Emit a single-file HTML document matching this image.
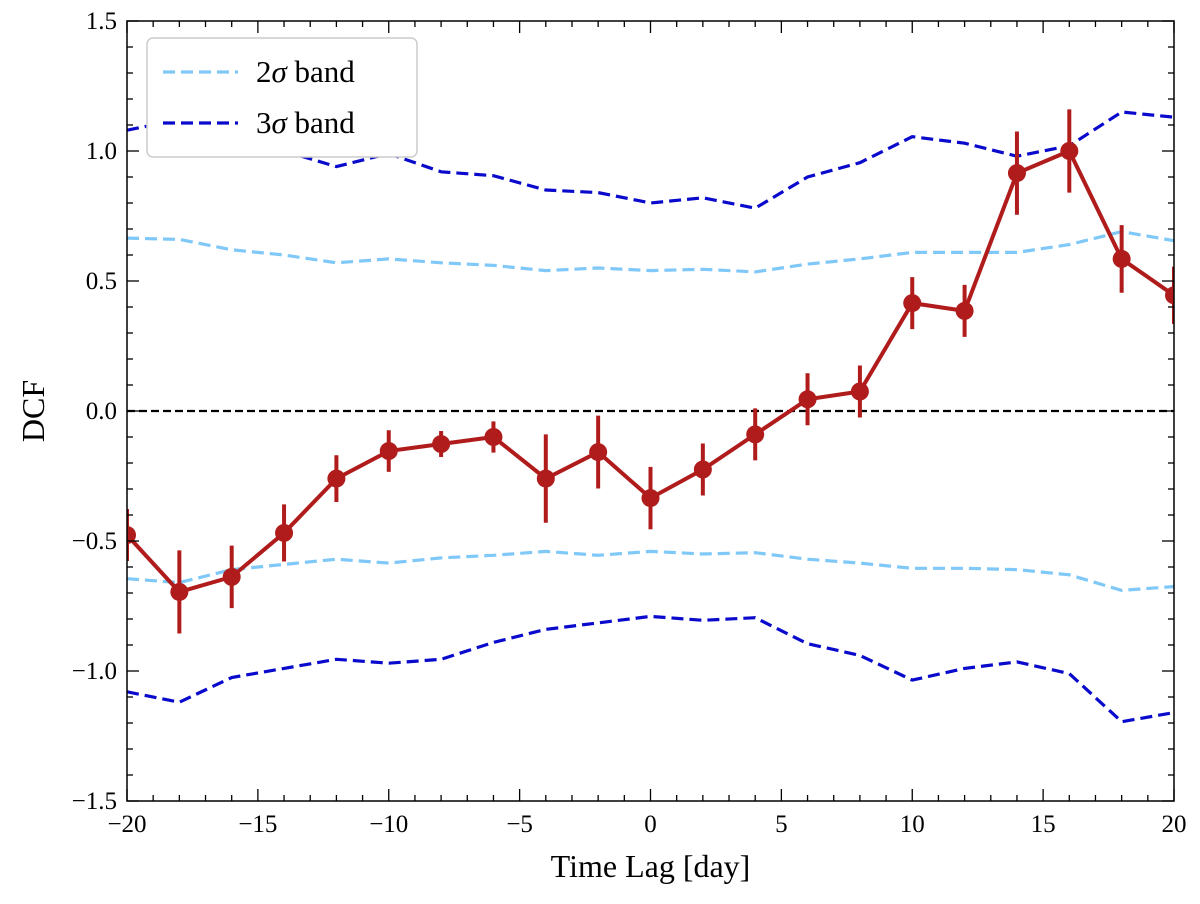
<!DOCTYPE html>
<html><head><meta charset="utf-8"><style>
body{margin:0;background:#fff}
svg text{font-family:"Liberation Serif",serif;fill:#000}
</style></head><body>
<svg id="chart" width="1200" height="899" xmlns="http://www.w3.org/2000/svg"></svg>
<script>
const lags=[-20,-18,-16,-14,-12,-10,-8,-6,-4,-2,0,2,4,6,8,10,12,14,16,18,20];
const dcf=[-0.477,-0.696,-0.638,-0.469,-0.26,-0.154,-0.127,-0.1,-0.26,-0.158,-0.335,-0.225,-0.09,0.045,0.075,0.415,0.385,0.915,1.0,0.585,0.445];
const dcfErr=[0.1,0.16,0.12,0.11,0.09,0.08,0.05,0.06,0.17,0.14,0.12,0.1,0.1,0.1,0.1,0.1,0.1,0.16,0.16,0.13,0.11];
const up3=[1.08,1.12,1.05,1.0,0.94,0.99,0.92,0.905,0.85,0.84,0.80,0.82,0.78,0.90,0.955,1.055,1.03,0.98,1.02,1.15,1.13];
const up2=[0.665,0.66,0.62,0.60,0.57,0.585,0.57,0.56,0.54,0.55,0.54,0.545,0.535,0.565,0.585,0.61,0.61,0.61,0.64,0.69,0.655];
const lo2=[-0.645,-0.66,-0.61,-0.59,-0.57,-0.585,-0.565,-0.555,-0.54,-0.555,-0.54,-0.55,-0.545,-0.57,-0.585,-0.605,-0.605,-0.61,-0.63,-0.69,-0.675];
const lo3=[-1.08,-1.12,-1.025,-0.99,-0.955,-0.97,-0.955,-0.89,-0.84,-0.815,-0.79,-0.805,-0.795,-0.895,-0.94,-1.035,-0.99,-0.965,-1.01,-1.195,-1.16];
const xTicks=[-20,-15,-10,-5,0,5,10,15,20];
const yTicks=[-1.5,-1.0,-0.5,0.0,0.5,1.0,1.5];
const L=127,R=1174,T=21,B=801;
const X=v=>L+(v+20)/40*(R-L);
const Y=v=>B-(v+1.5)/3*(B-T);
const svg=document.getElementById('chart');
const NS='http://www.w3.org/2000/svg';
function mk(tag,attrs,name,parent){const e=document.createElementNS(NS,tag);for(const k in attrs)e.setAttribute(k,attrs[k]);


(parent||svg).appendChild(e);return e;}
const clip=mk('clipPath',{id:'pc'},'plot-clip');
mk('rect',{x:L,y:T,width:R-L,height:B-T},'plot-clip-rect',clip);
const g=mk('g',{'clip-path':'url(#pc)'},'plot-area');
mk('line',{x1:L,x2:R,y1:Y(0),y2:Y(0),stroke:'#000','stroke-width':2.2,'stroke-dasharray':'8,4'},'zero-line',g);
function band(arr,color,name){mk('polyline',{points:lags.map((x,i)=>X(x)+','+Y(arr[i])).join(' '),fill:'none',stroke:color,'stroke-width':3.2,'stroke-dasharray':'12,6'},name,g);}
band(up2,'#7fc8f8','band-2sigma-upper');band(lo2,'#7fc8f8','band-2sigma-lower');
band(up3,'#0a0acc','band-3sigma-upper');band(lo3,'#0a0acc','band-3sigma-lower');
lags.forEach((x,i)=>{mk('line',{x1:X(x),x2:X(x),y1:Y(dcf[i]-dcfErr[i]),y2:Y(dcf[i]+dcfErr[i]),stroke:'#b01c1c','stroke-width':4},'error-bar',g);});
mk('polyline',{points:lags.map((x,i)=>X(x)+','+Y(dcf[i])).join(' '),fill:'none',stroke:'#b01c1c','stroke-width':4},'dcf-line',g);
lags.forEach((x,i)=>{mk('circle',{cx:X(x),cy:Y(dcf[i]),r:9,fill:'#b01c1c'},'dcf-point',g);});
mk('rect',{x:L,y:T,width:R-L,height:B-T,fill:'none',stroke:'#000','stroke-width':1.5},'plot-frame');
for(let v=-20;v<=20;v++){const maj=v%5===0,len=maj?12:6;
mk('line',{x1:X(v),x2:X(v),y1:B,y2:B-len,stroke:'#000','stroke-width':1.3},'x-tick');
mk('line',{x1:X(v),x2:X(v),y1:T,y2:T+len,stroke:'#000','stroke-width':1.3},'x-tick-top');}
for(let k=-15;k<=15;k++){const v=k/10,maj=k%5===0,len=maj?12:6;
mk('line',{x1:L,x2:L+len,y1:Y(v),y2:Y(v),stroke:'#000','stroke-width':1.3},'y-tick');
mk('line',{x1:R,x2:R-len,y1:Y(v),y2:Y(v),stroke:'#000','stroke-width':1.3},'y-tick-right');}
xTicks.forEach(v=>{const t=mk('text',{x:X(v),y:B+31,'font-size':25,'text-anchor':'middle'},'x-tick-label');t.textContent=v<0?'\u2212'+(-v):String(v);});
yTicks.forEach(v=>{const t=mk('text',{x:L-10,y:Y(v)+8,'font-size':25,'text-anchor':'end'},'y-tick-label');t.textContent=(v<0?'\u2212':'')+Math.abs(v).toFixed(1);});
const xt=mk('text',{x:(L+R)/2,y:877,'font-size':32,'text-anchor':'middle'},'x-axis-title');xt.textContent='Time Lag [day]';
const yt=mk('text',{x:0,y:0,'font-size':32,'text-anchor':'middle',transform:'translate(44,411) rotate(-90)'},'y-axis-title');yt.textContent='DCF';
const lg=mk('g',{},'legend');
mk('rect',{x:147,y:38,width:270,height:119,rx:6,fill:'#fff',stroke:'#ccc','stroke-width':1.5},'legend-box',lg);
mk('line',{x1:163,x2:238,y1:72,y2:72,stroke:'#7fc8f8','stroke-width':3.2,'stroke-dasharray':'12,6'},'legend-swatch-2sigma',lg);
mk('line',{x1:163,x2:238,y1:123,y2:123,stroke:'#0a0acc','stroke-width':3.2,'stroke-dasharray':'12,6'},'legend-swatch-3sigma',lg);
const l1=mk('text',{x:256,y:82,'font-size':31},'legend-entry-2sigma',lg);l1.innerHTML='2<tspan font-style="italic">σ</tspan> band';
const l2=mk('text',{x:256,y:133,'font-size':31},'legend-entry-3sigma',lg);l2.innerHTML='3<tspan font-style="italic">σ</tspan> band';
</script>
</body></html>
